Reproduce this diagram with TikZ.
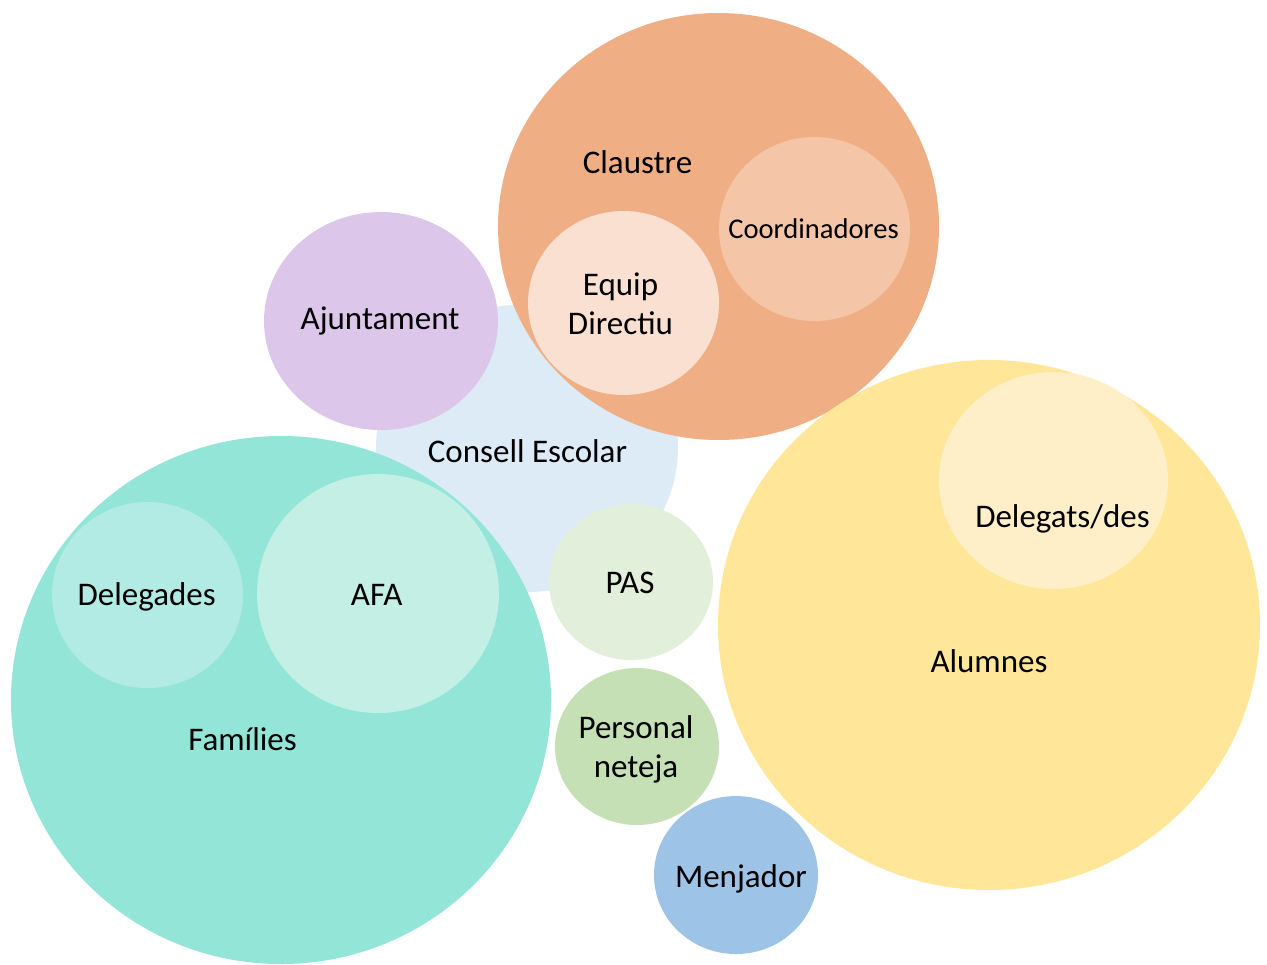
\documentclass[tikz,border=0pt]{standalone}
\usepackage{fontspec}
\setmainfont{Carlito}
\usetikzlibrary{shapes, positioning}

\definecolor{col-consell}{HTML}{DDEBF7}
\definecolor{col-ajuntament}{HTML}{DCC7EA}
\definecolor{col-claustre}{HTML}{F0AE84}
\definecolor{col-coordinadores}{HTML}{F4C6A7}
\definecolor{col-equip}{HTML}{F9E0D0}
\definecolor{col-families}{HTML}{93E5D7}
\definecolor{col-delegades}{HTML}{B2EBE4}
\definecolor{col-afa}{HTML}{C3EFE5}
\definecolor{col-pas}{HTML}{E2EFDA}
\definecolor{col-neteja}{HTML}{C5E0B4}
\definecolor{col-menjador}{HTML}{9DC3E6}
\definecolor{col-alumnes}{HTML}{FFE699}
\definecolor{col-delegats}{HTML}{FFEFC9}

\begin{document}
\begin{tikzpicture}[x=0.5pt, y=-0.5pt, font=\fontsize{16.5}{19.5}\selectfont,
    bubble/.style={ellipse, inner sep=0pt, outer sep=0pt},
    tag/.style={inner sep=0pt, anchor=base}]

    \useasboundingbox (0,0) rectangle (1267,964);

    % consell escolar i ajuntament
    \node[bubble, fill=col-consell, minimum width=151pt, minimum height=144pt] (consell) at (527,448) {};
    \node[bubble, fill=col-ajuntament, minimum width=117pt, minimum height=109pt] (ajuntament) at (381,321) {};

    % claustre
    \node[bubble, fill=col-claustre, minimum width=220.5pt, minimum height=213.5pt] (claustre) at (718.5,226.5) {};
    \node[bubble, fill=col-coordinadores, minimum width=95.5pt, minimum height=92pt] (coordinadores) at (814.5,229) {};
    \node[bubble, fill=col-equip, minimum width=95.5pt, minimum height=92pt] (equip) at (623.5,303) {};

    % families
    \node[bubble, fill=col-families, minimum width=270pt, minimum height=264pt] (families) at (281,700) {};
    \node[bubble, fill=col-delegades, minimum width=95.5pt, minimum height=93pt] (delegades) at (147.5,595) {};
    \node[bubble, fill=col-afa, minimum width=121pt, minimum height=119.5pt] (afa) at (378,593.5) {};

    % personal
    \node[bubble, fill=col-pas, minimum width=82pt, minimum height=78pt] (pas) at (631,582) {};
    \node[bubble, fill=col-neteja, minimum width=82pt, minimum height=78.5pt] (neteja) at (637,746.5) {};
    \node[bubble, fill=col-menjador, minimum width=82pt, minimum height=79pt] (menjador) at (736,875) {};

    % alumnes
    \node[bubble, fill=col-alumnes, minimum width=271pt, minimum height=265pt] (alumnes) at (989,625) {};
    \node[bubble, fill=col-delegats, minimum width=114.5pt, minimum height=108.5pt] (delegats) at (1053.5,480.5) {};

    % textos
    \node[tag] (consell-label) at (527.5,462) {Consell Escolar};
    \node[tag] (ajuntament-label) at (380,329) {Ajuntament};
    \node[tag] (claustre-label) at (637.5,173) {Claustre};
    \node[tag, font=\fontsize{14.3}{17}\selectfont] (coordinadores-label) at (813.5,238) {Coordinadores};
    \node[align=center, inner sep=0pt] (equip-label) at (620.5,304) {Equip\\Directiu};
    \node[tag] (delegades-label) at (146.7,605) {Delegades};
    \node[tag] (afa-label) at (376.7,605) {AFA};
    \node[tag] (families-label) at (242.5,750) {Famílies};
    \node[tag] (pas-label) at (630,593) {PAS};
    \node[align=center, inner sep=0pt] (neteja-label) at (636,749) {Personal\\neteja};
    \node[tag] (menjador-label) at (741,887) {Menjador};
    \node[tag] (alumnes-label) at (989,672) {Alumnes};
    \node[tag] (delegats-label) at (1062.5,527) {Delegats/des};

\end{tikzpicture}
\end{document}
